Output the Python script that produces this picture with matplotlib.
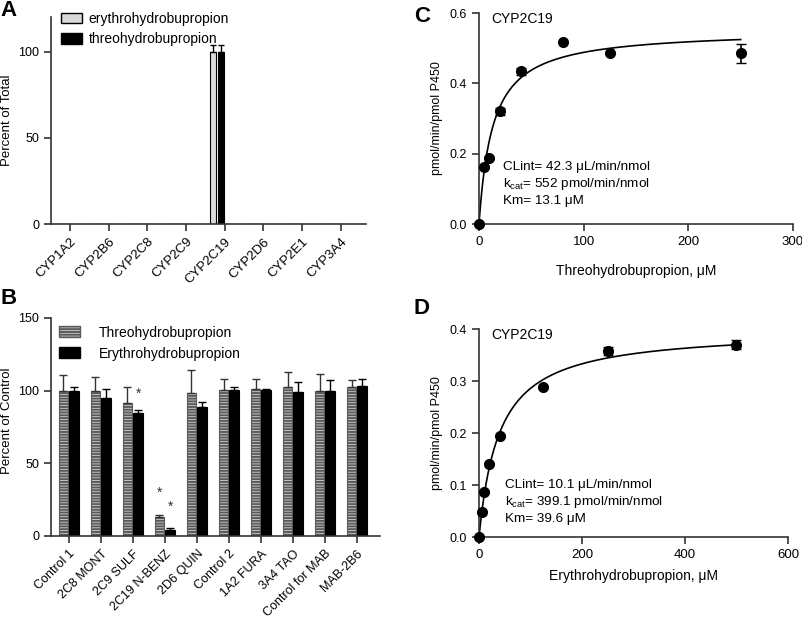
import numpy as np
import matplotlib.pyplot as plt
from matplotlib.patches import Patch

plt.rcParams["font.family"] = ["Liberation Sans", "DejaVu Sans"]
plt.rcParams["hatch.linewidth"] = 1.4

# Panel A data
cyps = ["CYP1A2", "CYP2B6", "CYP2C8", "CYP2C9", "CYP2C19", "CYP2D6", "CYP2E1", "CYP3A4"]
erythro_a = [0, 0, 0, 0, 100, 0, 0, 0]
erythro_a_err = [0, 0, 0, 0, 4, 0, 0, 0]
threo_a = [0, 0, 0, 0, 100, 0, 0, 0]
threo_a_err = [0, 0, 0, 0, 4, 0, 0, 0]

# Panel B data
inhibitors = ["Control 1", "2C8 MONT", "2C9 SULF", "2C19 N-BENZ", "2D6 QUIN",
              "Control 2", "1A2 FURA", "3A4 TAO", "Control for MAB", "MAB-2B6"]
threo_b = [100, 99.5, 91.7, 13.4, 98.4, 100.2, 101.2, 102.5, 100, 102.3]
threo_b_err = [10.6, 9.9, 10.8, 1.3, 15.6, 7.6, 7.1, 10.4, 11.8, 5.1]
erythro_b = [100, 95, 84.6, 3.9, 88.7, 100.2, 100.7, 99.3, 100, 103.2]
erythro_b_err = [2.5, 6, 2, 1.9, 3.3, 2.3, 0.5, 6.9, 7.6, 4.8]
stars_b = [(2, 0.16, 98), (3, -0.17, 29.7), (3, 0.16, 20)]

# Panel C data (threohydrobupropion)
conc_c = [0, 5, 10, 20, 40, 80, 125, 250]
rate_c = [0, 0.161, 0.188, 0.32, 0.434, 0.517, 0.486, 0.486]
rate_c_err = [0, 0, 0, 0.009, 0.011, 0, 0, 0.027]
kcat_c, km_c = 0.552, 13.1

# Panel D data (erythrohydrobupropion)
conc_d = [0, 5, 10, 20, 40, 125, 250, 500]
rate_d = [0, 0.049, 0.087, 0.140, 0.194, 0.288, 0.358, 0.370]
rate_d_err = [0, 0, 0, 0, 0, 0, 0.008, 0.009]
kcat_d, km_d = 0.399, 39.6

W, H = 803, 621
fig = plt.figure(figsize=(W / 100, H / 100), dpi=100)


def ax_px(x0, y0, x1, y1):
    return fig.add_axes([x0 / W, 1 - y1 / H, (x1 - x0) / W, (y1 - y0) / H])


def style(ax):
    for s in ["top", "right"]:
        ax.spines[s].set_visible(False)
    for s in ["left", "bottom"]:
        ax.spines[s].set_linewidth(1.2)
        ax.spines[s].set_color("#333333")
    ax.tick_params(direction="out", length=5, width=1.2, color="#333333",
                   labelsize=9.5)
    ax.tick_params(axis="y", labelsize=9)


# ---- A ----
ax = ax_px(51, 17, 366, 224)
style(ax)
x = np.arange(len(cyps))
w = 0.16
ax.bar(x - 0.31, erythro_a, w, color="#d9d9d9", edgecolor="black", linewidth=0.8)
ax.bar(x - 0.10, threo_a, w, color="black", edgecolor="black", linewidth=0.8)
for i in range(len(cyps)):
    if erythro_a_err[i] > 0:
        ax.errorbar(x[i] - 0.31, erythro_a[i], yerr=[[0], [erythro_a_err[i]]],
                    fmt="none", ecolor="black", elinewidth=1, capsize=2.5)
    if threo_a_err[i] > 0:
        ax.errorbar(x[i] - 0.10, threo_a[i], yerr=[[0], [threo_a_err[i]]],
                    fmt="none", ecolor="black", elinewidth=1, capsize=2.5)
ax.set_xlim(-0.49, 7.65)
ax.set_ylim(0, 120)
ax.set_yticks([0, 50, 100])
ax.set_xticks(x)
ax.set_xticklabels(cyps, rotation=45, ha="right", rotation_mode="anchor")
ax.set_ylabel("Percent of Total", fontsize=9.5)
ax.yaxis.set_label_coords(-0.121, 0.5)
ax.legend(handles=[Patch(facecolor="#d9d9d9", edgecolor="black", label="erythrohydrobupropion"),
                   Patch(facecolor="black", edgecolor="black", label="threohydrobupropion")],
          loc="upper left", bbox_to_anchor=(0.032, 1.025), frameon=False, fontsize=10,
          handlelength=1.5, handleheight=0.8, handletextpad=0.5, labelspacing=0.45,
          borderaxespad=0, borderpad=0)
fig.text(0 / W, 1 - 10 / H, "A", fontsize=16, fontweight="bold", va="center")

# ---- B ----
ax = ax_px(51, 318, 380, 536)
style(ax)
x = np.arange(len(inhibitors))
w = 0.3
ax.bar(x - 0.17, threo_b, w, color="#cfcfcf", edgecolor="#5a5a5a", hatch="------", linewidth=0.8)
ax.bar(x + 0.16, erythro_b, w, color="black", edgecolor="black", linewidth=0.8)
ax.errorbar(x - 0.17, threo_b, yerr=[np.zeros(len(x)), threo_b_err], fmt="none",
            ecolor="#333333", elinewidth=1, capsize=3)
ax.errorbar(x + 0.16, erythro_b, yerr=[np.zeros(len(x)), erythro_b_err], fmt="none",
            ecolor="black", elinewidth=1, capsize=3)
for i, off, yv in stars_b:
    ax.text(i + off, yv, "*", ha="center", va="center", fontsize=10, color="#333333")
ax.set_xlim(-0.56, 9.72)
ax.set_ylim(0, 150)
ax.set_yticks([0, 50, 100, 150])
ax.set_xticks(x)
ax.set_xticklabels(inhibitors, rotation=45, ha="right", rotation_mode="anchor", fontsize=9)
ax.set_ylabel("Percent of Control", fontsize=9.5)
ax.yaxis.set_label_coords(-0.1155, 0.53)
ax.legend(handles=[Patch(facecolor="#cfcfcf", edgecolor="#5a5a5a", hatch="------",
                         label="Threohydrobupropion"),
                   Patch(facecolor="black", edgecolor="black", label="Erythrohydrobupropion")],
          loc="upper left", bbox_to_anchor=(0.024, 0.965), frameon=False, fontsize=10,
          handlelength=1.5, handleheight=0.8, handletextpad=1.35, labelspacing=0.5,
          borderaxespad=0, borderpad=0)
fig.text(0 / W, 1 - 299 / H, "B", fontsize=16, fontweight="bold", va="center")


# ---- C and D ----
def kinetics(box, conc, rate, err, kcat, km, xmax, ymax, yticks, xticks,
             xlabel, xlab_y, ann, ann_xy, letter, letter_y):
    ax = ax_px(*box)
    style(ax)
    width = box[2] - box[0]
    xs = np.linspace(0, max(conc), 400)
    ax.plot(xs, kcat * xs / (km + xs), color="black", lw=1.2)
    ax.errorbar(conc, rate, yerr=err, fmt="o", color="black", ms=7,
                ecolor="black", elinewidth=1.2, capsize=3.5, clip_on=False, zorder=3)
    ax.set_xlim(0, xmax)
    ax.set_ylim(0, ymax)
    ax.set_xticks(xticks)
    ax.set_yticks(yticks)
    ax.set_yticklabels([f"{t:.1f}" for t in yticks])
    ax.set_xlabel(xlabel, fontsize=10)
    ax.xaxis.set_label_coords(0.5, xlab_y)
    ax.set_ylabel("pmol/min/pmol P450", fontsize=9)
    ax.yaxis.set_label_coords((443 - box[0]) / width, 0.5)
    ax.text(0.04, 0.97, "CYP2C19", transform=ax.transAxes, fontsize=10, va="center")
    ax.text(ann_xy[0], ann_xy[1], ann, transform=ax.transAxes, fontsize=9.7,
            va="top", linespacing=1.3)
    fig.text(414 / W, 1 - letter_y / H, letter, fontsize=16, fontweight="bold", va="center")


kinetics((479, 13, 793, 224), conc_c, rate_c, rate_c_err, kcat_c, km_c, 300, 0.6,
         [0.0, 0.2, 0.4, 0.6], [0, 100, 200, 300], "Threohydrobupropion, μM", -0.19,
         "CLint= 42.3 μL/min/nmol\n" r"k$_{\mathregular{cat}}$= 552 pmol/min/nmol" "\nKm= 13.1 μM",
         (0.075, 0.30), "C", 16)
kinetics((479, 329, 788, 537), conc_d, rate_d, rate_d_err, kcat_d, km_d, 600, 0.4,
         [0.0, 0.1, 0.2, 0.3, 0.4], [0, 200, 400, 600], "Erythrohydrobupropion, μM", -0.154,
         "CLint= 10.1 μL/min/nmol\n" r"k$_{\mathregular{cat}}$= 399.1 pmol/min/nmol" "\nKm= 39.6 μM",
         (0.085, 0.28), "D", 308)

fig.savefig("out.png", dpi=100)
